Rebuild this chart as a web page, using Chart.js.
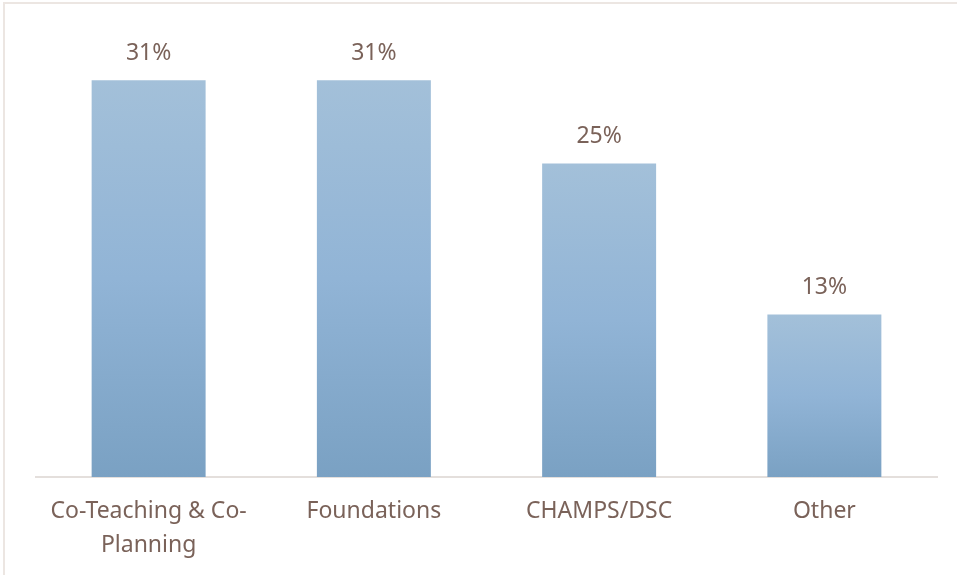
<!DOCTYPE html>
<html>
<head>
<meta charset="utf-8">
<script src="https://cdn.jsdelivr.net/npm/chart.js@4/dist/chart.umd.min.js"></script>
<style>
    html, body { margin: 0; padding: 0; background: #fff; overflow: hidden; }
    #wrap { position: relative; width: 957px; height: 575px; }
    #frame {
        position: absolute; left: 3px; top: 2px; width: 1000px; height: 700px;
        border-top: 2px solid #ece6e2; border-left: 2px solid #ece6e2;
    }
    canvas { position: absolute; left: 0; top: 0; }
</style>
</head>
<body>
<div id="wrap">
    <div id="frame"></div>
    <canvas id="chart" width="957" height="575"></canvas>
</div>
<script>
"use strict";

    // 項目と値（%）
    const categories = [['Co-Teaching & Co-', 'Planning'], 'Foundations', 'CHAMPS/DSC', 'Other'];
    const percents = [31, 31, 24.5, 12.7];

    const textColor = '#7a6259';

    // バーごとの縦グラデーション
    function barGradient(context) {
        const chart = context.chart;
        const y = chart.scales.y;
        if (!chart.chartArea || !y) return '#92b3d4';
        const top = y.getPixelForValue(context.raw);
        const bottom = y.getPixelForValue(0);
        const g = chart.ctx.createLinearGradient(0, top, 0, bottom);
        g.addColorStop(0, '#a3c0d9');
        g.addColorStop(0.5, '#91b4d6');
        g.addColorStop(1, '#7aa1c3');
        return g;
    }

    // バーの上に値ラベルを描く
    const valueLabels = {
        id: 'valueLabels',
        afterDatasetsDraw(chart) {
            const ctx = chart.ctx;
            const meta = chart.getDatasetMeta(0);
            ctx.save();
            ctx.font = '23px "Noto Sans"';
            ctx.fillStyle = textColor;
            ctx.textAlign = 'center';
            ctx.textBaseline = 'middle';
            meta.data.forEach((bar, i) => {
                ctx.fillText(Math.round(percents[i]) + '%', bar.x, bar.y - 27);
            });
            ctx.restore();
        }
    };

    const ctx = document.getElementById('chart').getContext('2d');
    const chart = new Chart(ctx, {
        type: 'bar',
        data: {
            labels: categories,
            datasets: [{
                data: percents,
                backgroundColor: barGradient,
                borderWidth: 0,
                barPercentage: 0.506,
                categoryPercentage: 1.0
            }]
        },
        options: {
            responsive: false,
            animation: false,
            layout: { padding: { left: 36, right: 20, top: 29, bottom: 0 } },
            plugins: {
                legend: { display: false },
                tooltip: { enabled: false }
            },
            scales: {
                x: {
                    grid: { display: false, drawTicks: false },
                    border: { display: true, color: '#e4dfdc', width: 2 },
                    ticks: {
                        color: textColor,
                        font: { family: '"Noto Sans"', size: 23, lineHeight: 1.45 },
                        padding: 18,
                        maxRotation: 0,
                        autoSkip: false
                    },
                    afterFit(scale) {
                        scale.height = 98;
                    }
                },
                y: {
                    display: false,
                    min: 0,
                    max: 35
                }
            }
        },
        plugins: [valueLabels]
    });
</script>
</body>
</html>
